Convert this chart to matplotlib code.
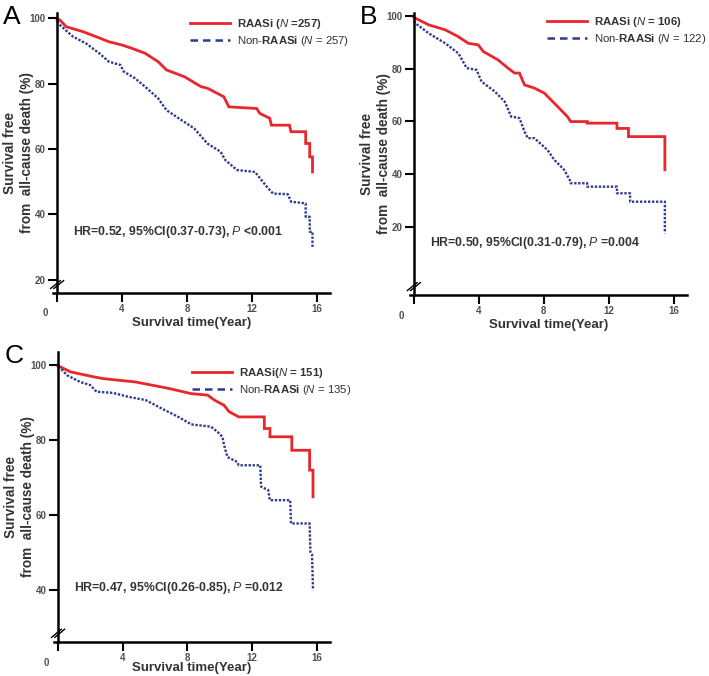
import matplotlib
matplotlib.use("Agg")
import matplotlib.pyplot as plt
from matplotlib.lines import Line2D

plt.rcParams["font.family"] = ["Liberation Sans", "DejaVu Sans"]
plt.rcParams["mathtext.fontset"] = "custom"
plt.rcParams["mathtext.rm"] = "Liberation Sans"
plt.rcParams["mathtext.it"] = "Liberation Sans:italic"
plt.rcParams["mathtext.bf"] = "Liberation Sans:bold"

# ---- Data: vertices (year, survival %) ------------------------------------
A_raas_t = [0, 0.16, 0.56, 1.58, 2.38, 3.19, 4.0, 4.6, 5.41, 6.22, 6.73, 7.84, 8.85,
            9.25, 10.26, 10.57, 12.28, 12.48, 13.09, 13.19, 14.3, 14.4, 15.3, 15.3,
            15.55, 15.55, 15.72, 15.72]
A_raas_s = [99.5, 99.5, 97.4, 95.9, 94.4, 92.8, 91.8, 90.8, 89.3, 86.7, 84.2, 82.1,
            79.1, 78.6, 76.0, 72.9, 72.4, 70.9, 69.4, 67.3, 67.3, 65.3, 65.3, 61.7,
            61.7, 57.6, 57.6, 53.0]
A_non_t = [0, 0.16, 0.97, 1.78, 2.59, 3.19, 3.9, 4.1, 4.8, 5.41, 6.22, 6.73, 7.64,
           8.44, 9.25, 10.06, 10.36, 11.07, 12.18, 12.58, 12.99, 13.29, 14.2, 14.4,
           15.3, 15.3, 15.55, 15.55, 15.72, 15.72]
A_non_s = [99.0, 98.0, 94.4, 92.3, 89.3, 86.7, 85.7, 83.7, 81.6, 79.1, 75.5, 71.9,
           68.9, 66.3, 61.7, 59.2, 56.6, 53.6, 53.0, 50.5, 48.0, 46.4, 46.2, 43.9,
           43.4, 39.3, 39.3, 34.7, 34.7, 30.1]

B_raas_t = [0, 0.1, 0.91, 1.93, 2.74, 3.35, 3.96, 4.27, 5.18, 5.79, 6.2, 6.5, 6.81,
            7.42, 8.03, 8.64, 9.45, 9.65, 10.67, 10.67, 12.5, 12.5, 13.21, 13.21,
            15.45, 15.45]
B_raas_s = [99.5, 99.1, 96.6, 94.7, 92.1, 89.6, 89.0, 86.5, 83.3, 80.2, 78.3, 78.3,
            73.8, 72.6, 70.7, 66.9, 61.8, 59.9, 59.9, 59.3, 59.3, 57.3, 57.3, 54.2,
            54.2, 41.6]
B_non_t = [0, 0.1, 0.91, 1.93, 2.74, 3.25, 3.86, 4.16, 4.98, 5.59, 5.99, 6.5, 6.81,
           7.01, 7.42, 8.23, 8.64, 9.25, 9.65, 9.65, 10.67, 10.67, 12.5, 12.5, 13.31,
           13.31, 15.45, 15.45]
B_non_s = [98.0, 97.2, 93.4, 89.6, 85.8, 80.2, 79.5, 75.1, 71.3, 67.5, 61.8, 61.2,
           56.1, 53.6, 53.6, 49.1, 45.4, 41.6, 37.1, 36.5, 36.5, 35.2, 35.2, 32.7,
           32.7, 29.5, 29.5, 17.5]

C_raas_t = [0, 0.16, 0.77, 2.18, 2.79, 4.8, 6.83, 8.24, 9.25, 9.66, 10.26, 10.57,
            11.17, 12.75, 12.75, 13.1, 13.1, 14.45, 14.45, 15.55, 15.55, 15.76, 15.76]
C_raas_s = [99.7, 99.5, 98.2, 96.9, 96.4, 95.5, 93.8, 92.4, 92.0, 90.7, 89.3, 87.6,
            86.2, 86.2, 83.1, 83.1, 80.9, 80.9, 77.3, 77.3, 72.0, 72.0, 64.9]
C_non_t = [0, 0.16, 0.56, 1.37, 1.98, 2.38, 3.39, 4.4, 5.41, 6.42, 7.43, 8.24, 9.45,
           9.86, 10.16, 10.26, 10.47, 11.07, 11.17, 12.5, 12.55, 12.99, 13.09, 14.35,
           14.4, 15.55, 15.6, 15.7, 15.76]
C_non_s = [99.5, 99.1, 97.3, 95.5, 94.7, 92.9, 92.6, 91.5, 90.7, 88.4, 86.2, 84.2,
           83.6, 82.2, 80.9, 78.7, 75.5, 74.2, 73.3, 73.3, 67.6, 66.7, 64.0, 64.0,
           57.8, 57.8, 50.2, 49.5, 40.0]

LETTERS = ["A", "B", "C"]
RAAS_LABELS = [r"RAASi ($\mathit{N}$ =257)", r"RAASi ($\mathit{N}$ = 106)",
               r"RAASi($\mathit{N}$ = 151)"]
NON_LABELS = [r"Non-$\mathbf{RAASi}$ ($\mathit{N}$ = 257)",
              r"Non-$\mathbf{RAASi}$ ($\mathit{N}$ = 122)",
              r"Non-$\mathbf{RAASi}$ ($\mathit{N}$ = 135)"]
HR_TEXT = [r"HR=0.52, 95%CI(0.37-0.73), $\mathit{P}$ <0.001",
           r"HR=0.50, 95%CI(0.31-0.79), $\mathit{P}$ =0.004",
           r"HR=0.47, 95%CI(0.26-0.85), $\mathit{P}$ =0.012"]
YTICKS = [[20, 40, 60, 80, 100], [20, 40, 60, 80, 100], [40, 60, 80, 100]]
XTICKS = [4, 8, 12, 16]
CURVES = [((A_raas_t, A_raas_s), (A_non_t, A_non_s)),
          ((B_raas_t, B_raas_s), (B_non_t, B_non_s)),
          ((C_raas_t, C_raas_s), (C_non_t, C_non_s))]

# ---- Layout (figure fractions) --------------------------------------------
W, H = 709, 676
RECTS = [[0.0748, 0.5666, 0.3907, 0.4142],
         [0.578, 0.5636, 0.3907, 0.4172],
         [0.0762, 0.0503, 0.389, 0.4290]]
YLIMS = [(16, 101.6), (-5.9, 101.1), (26.2, 103.5)]
HR_Y = [34.7, 13.8, 40.5]
LEG_PX = [(190, 17), (547, 15), (192, 366)]   # legend top-left, pixels
XLAB_PAD = [2, 2, -0.6]

RED = "#e8262c"
BLUE = "#2e3a8c"
GREY = "#505050"
DARK = "#333333"

fig = plt.figure(figsize=(W / 100, H / 100), dpi=100)

for i in range(3):
    rect = RECTS[i]
    ax = fig.add_axes(rect)
    (rt, rs), (nt, ns) = CURVES[i]
    ax.plot(rt, rs, color=RED, lw=2.0, solid_joinstyle="miter")
    ax.plot(nt, ns, color=BLUE, lw=1.7, linestyle=(0, (1.0, 0.7)))

    ax.set_xlim(-0.25, 16.8)
    ax.set_ylim(*YLIMS[i])
    ax.spines["top"].set_visible(False)
    ax.spines["right"].set_visible(False)
    ax.spines["left"].set_position(("data", 0))
    for s in ("left", "bottom"):
        ax.spines[s].set_linewidth(1.8)
    ax.set_xticks([0] + XTICKS)
    ax.set_xticklabels([""] + [str(v) for v in XTICKS])
    ax.set_yticks(YTICKS[i])
    ax.tick_params(axis="both", direction="out", length=6.5, width=1.5,
                   labelsize=7, labelcolor=GREY, pad=1.5)
    for lbl in ax.get_xticklabels() + ax.get_yticklabels():
        lbl.set_fontweight("bold")
    ax.text(-0.75, -0.055, "0", transform=ax.get_xaxis_transform(),
            ha="center", va="top", fontsize=7, color=GREY, fontweight="bold")

    # axis break "//" just above the x axis
    y0 = 0.03
    for dx in (-0.1, 0.1):
        ax.plot([-0.3 + dx, 0.3 + dx], [y0 - 0.014, y0 + 0.014],
                transform=ax.get_xaxis_transform(), color="black", lw=1.0,
                clip_on=False)

    ax.set_xlabel("Survival time(Year)", fontsize=9.5, fontweight="bold",
                  color=DARK, labelpad=XLAB_PAD[i])
    ax.text(-0.125, 0.5, "Survival free\nfrom  all-cause death (%)",
            transform=ax.transAxes, rotation=90, ha="center", va="center",
            fontsize=9.8, fontweight="bold", color=DARK, linespacing=1.25)

    ax.text(1.0, HR_Y[i], HR_TEXT[i], fontsize=8.8, color=DARK,
            fontweight="bold", ha="left", va="center")

    handles = [Line2D([], [], color=RED, lw=2.0),
               Line2D([], [], color=BLUE, lw=1.8, linestyle=(0, (3, 2)))]
    lx, ly = LEG_PX[i]
    leg = ax.legend(handles, [RAAS_LABELS[i], NON_LABELS[i]], loc="upper left",
                    bbox_to_anchor=(lx / W, 1 - ly / H),
                    bbox_transform=fig.transFigure, frameon=False, fontsize=8.2,
                    handlelength=3.5, handletextpad=0.65, labelspacing=0.22,
                    borderpad=0, borderaxespad=0)
    for t in leg.get_texts():
        t.set_color(DARK)
    leg.get_texts()[0].set_fontweight("bold")

    fig.text(rect[0] - 0.07, rect[1] + rect[3] + 0.012, LETTERS[i],
             fontsize=19, ha="left", va="top")

fig.savefig("out.png", dpi=100)
